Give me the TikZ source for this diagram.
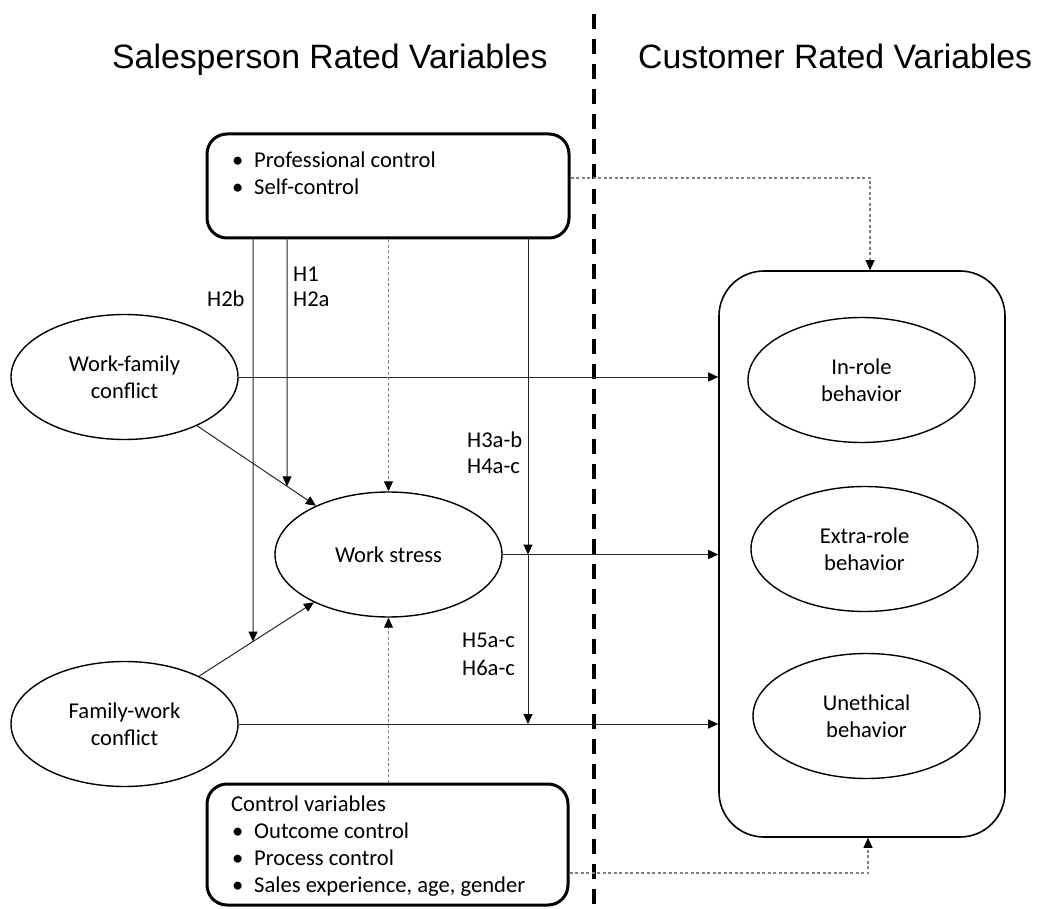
\documentclass[tikz,border=0pt]{standalone}
\usepackage{fontspec}
\setmainfont{Carlito}
\newfontfamily\titlefont{Liberation Sans}
\usetikzlibrary{shapes.geometric,arrows.meta,intersections}
\begin{document}
\begin{tikzpicture}[x=1pt,y=-1pt,
  txt/.style={font=\fontsize{22.6}{27}\selectfont, inner sep=0, anchor=base west},
  ttl/.style={font=\titlefont\fontsize{33.8}{40}\selectfont, inner sep=0, anchor=base west},
  oval/.style={ellipse, draw, line width=1.4pt, minimum width=227, minimum height=125, inner sep=0, align=center, font=\fontsize{22.6}{27}\selectfont},
  bigbox/.style={draw, line width=3pt, rounded corners=20pt, inner sep=0},
  outbox/.style={draw, line width=1.6pt, rounded corners=45pt, inner sep=0},
  tip/.style={-{Triangle[length=10pt,width=9pt,color=black]}},
  arr/.style={tip, line width=1pt, draw=black!85},
  dot/.style={tip, line width=1.1pt, draw=black!50, dash pattern=on 3pt off 2.5pt},
  divider/.style={line width=3.5pt, dash pattern=on 15pt off 10pt}
]
\useasboundingbox (0,0) rectangle (1039,909);

% titles
\node[ttl] (t1) at (112,69) {Salesperson Rated Variables};
\node[ttl] (t2) at (638,69) {Customer Rated Variables};

% divider
\coordinate (dtop) at (594,14);
\coordinate (dbot) at (594,909);
\draw[divider] (dtop) -- (dbot);

% boxes
\node[bigbox, minimum width=362, minimum height=104] (tb) at (388,186) {};
\node[txt] (tb1) at (232,168) {\makebox[22pt][l]{•}Professional control};
\node[txt] (tb2) at (232,195) {\makebox[22pt][l]{•}Self-control};

\node[bigbox, minimum width=361, minimum height=121] (bb) at (387.5,844.5) {};
\node[txt] (bb0) at (231,811) {Control variables};
\node[txt] (bb1) at (232,838) {\makebox[22pt][l]{•}Outcome control};
\node[txt] (bb2) at (232,865) {\makebox[22pt][l]{•}Process control};
\node[txt] (bb3) at (232,892) {\makebox[22pt][l]{•}Sales experience, age, gender};

\node[outbox, minimum width=286, minimum height=566] (rb) at (862,554) {};

% ellipses
\node[oval] (wfc) at (124.5,377) {Work-family\\conflict};
\node[oval] (fwc) at (124.5,724) {Family-work\\conflict};
\node[oval] (ws) at (388.5,554.5) {Work stress};
\node[oval] (irb) at (861.5,380) {In-role\\behavior};
\node[oval] (erb) at (864.5,549) {Extra-role\\behavior};
\node[oval] (ueb) at (866.5,716) {Unethical\\behavior};

% labels
\node[txt] (lh2b) at (207,307) {H2b};
\node[txt] (lh1) at (293,282) {H1};
\node[txt] (lh2a) at (293,307) {H2a};
\node[txt] (lh3) at (467,447) {H3a-b};
\node[txt] (lh4) at (467,473) {H4a-c};
\node[txt] (lh5) at (462,647) {H5a-c};
\node[txt] (lh6) at (462,675) {H6a-c};

% main paths
\draw[arr] (wfc.east) -- (wfc.east -| rb.west);
\draw[arr] (ws.east) -- (ws.east -| rb.west);
\draw[arr] (fwc.east) -- (fwc.east -| rb.west);
\draw[arr, name path=pa] (wfc) -- (ws);
\draw[arr, name path=pb] (fwc) -- (ws);

% moderator lines
\coordinate (xh2b) at (253,0);
\coordinate (xh1) at (287,0);
\coordinate (xh3) at (528,0);
\path[name path=va] (tb.south -| xh1) -- ++(0,600);
\path[name path=vb] (tb.south -| xh2b) -- ++(0,600);
\path[name intersections={of=pa and va, by=h1tip}];
\path[name intersections={of=pb and vb, by=h2btip}];
\draw[arr] (tb.south -| xh1) -- (h1tip);
\draw[arr] (tb.south -| xh2b) -- (h2btip);
\draw[arr] (tb.south -| xh3) -- (ws.east -| xh3);
\draw[arr] (ws.east -| xh3) -- (fwc.east -| xh3);

% dotted control paths
\draw[dot] (tb.south -| ws.north) -- (ws.north);
\draw[dot] (bb.north -| ws.south) -- (ws.south);
\draw[dot] ([yshift=8pt]tb.east) -| ([xshift=8pt]rb.north);
\draw[dot] ([yshift=-28.5pt]bb.east) -| ([xshift=6pt]rb.south);
\end{tikzpicture}
\end{document}
